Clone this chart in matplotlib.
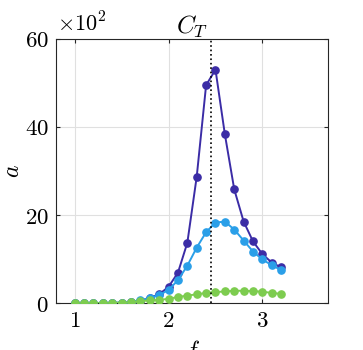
import matplotlib
matplotlib.use("Agg")
import matplotlib.pyplot as plt
import numpy as np
from matplotlib.ticker import FuncFormatter

plt.rcParams["mathtext.fontset"] = "cm"
plt.rcParams["font.family"] = "serif"
plt.rcParams["font.serif"] = ["DejaVu Serif"]

# Data (a in units of 10^2)
f = [1.0, 1.1, 1.2, 1.3, 1.4, 1.5, 1.6, 1.7, 1.8, 1.9, 2.0, 2.1,
     2.2, 2.3, 2.4, 2.5, 2.6, 2.7, 2.8, 2.9, 3.0, 3.1, 3.2]
a_dark = [0.0, 0.0, 0.0, 0.0, 0.05, 0.1, 0.2, 0.5, 1.2, 2.0, 3.7, 6.9,
          13.7, 28.7, 49.5, 53.0, 38.3, 25.8, 18.5, 14.0, 11.1, 9.2, 8.1]
a_blue = [0.0, 0.0, 0.0, 0.0, 0.05, 0.1, 0.3, 0.6, 1.2, 1.8, 3.0, 5.2,
          8.5, 12.6, 16.1, 18.3, 18.5, 16.7, 14.2, 11.7, 9.9, 8.6, 7.5]
a_green = [0.0, 0.0, 0.0, 0.0, 0.05, 0.1, 0.2, 0.45, 0.6, 0.75, 0.95, 1.4,
           1.7, 2.0, 2.3, 2.5, 2.65, 2.8, 2.8, 2.7, 2.6, 2.3, 2.1]
f_crit = 2.45

colors = ["#3b2ca6", "#2a9fe8", "#7dcc4f"]

fig = plt.figure(figsize=(3.63, 3.5), dpi=100)
ax = fig.add_axes([0.154, 0.134, 0.75, 0.755])

for y, c in zip([a_dark, a_blue, a_green], colors):
    ax.plot(f, y, "-o", color=c, lw=1.4, ms=5.2, mec=c, zorder=3)

ax.axvline(f_crit, color="black", ls=":", lw=1.2, zorder=4)

ax.set_xlim(0.8, 3.7)
ax.set_ylim(0, 60)
ax.set_xticks([1, 2, 3])
ax.set_yticks([0, 20, 40, 60])
fmt = FuncFormatter(lambda v, p: r"$%d$" % v)
ax.xaxis.set_major_formatter(fmt)
ax.yaxis.set_major_formatter(fmt)
ax.tick_params(direction="in", length=3, width=0.8, top=True, right=True,
               labelsize=16.5, colors="#262626", pad=5)
ax.tick_params(labelcolor="black")
for s in ax.spines.values():
    s.set_color("#262626")
    s.set_linewidth(0.8)
ax.grid(True, color="#e0e0e0", lw=0.8)
ax.set_axisbelow(True)

ax.set_title(r"$C_T$", fontsize=18, pad=4)
ax.set_ylabel(r"$a$", fontsize=17, labelpad=1)
ax.set_xlabel(r"$f$", fontsize=17, labelpad=4)
ax.text(0.005, 1.01, r"$\times 10^2$", transform=ax.transAxes, fontsize=16,
        ha="left", va="bottom")

fig.savefig("out.png", dpi=100)
